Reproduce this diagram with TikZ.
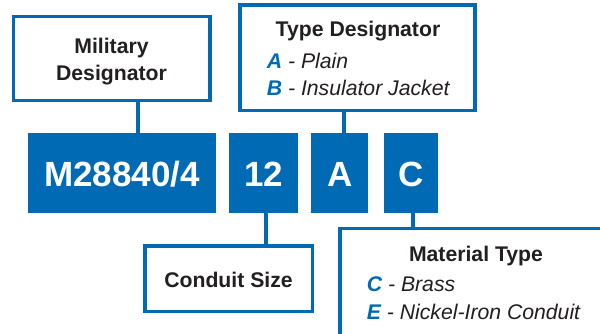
\documentclass[tikz,border=0pt]{standalone}
\usepackage{fontspec}
\setmainfont{Liberation Sans}
\usetikzlibrary{positioning, calc}

\definecolor{pnblue}{HTML}{006AB4}
\definecolor{pntext}{HTML}{231F20}
% coloured option letter inside an item line
\newcommand{\optletter}[1]{\textcolor{pnblue}{\bfseries #1}}

\begin{document}
\begin{tikzpicture}[
  x=1pt, y=-1pt,
  infobox/.style = {draw=pnblue, line width=3.3pt, fill=white, inner sep=0pt, outer sep=0pt},
  codebox/.style = {fill=pnblue, inner sep=0pt, outer sep=0pt, minimum height=80pt,
                    text height=26pt, text depth=0pt, text=white,
                    font=\fontsize{35}{35}\selectfont\bfseries},
  title/.style   = {anchor=base, inner sep=0pt, text=pntext,
                    font=\fontsize{21.2}{24}\selectfont\bfseries},
  item/.style    = {anchor=base west, inner sep=0pt, text=pntext,
                    font=\fontsize{21.2}{24}\selectfont\itshape},
  stem/.style    = {draw=pnblue, line width=4.3pt},
]
  \useasboundingbox (0,0) rectangle (600,334);
  \clip (0,0) rectangle (600,334);

  % part number blocks
  \node[codebox, minimum width=187.4pt]                  (milcode)  at (122,173.3) {M28840/4};
  \node[codebox, minimum width=68.4pt, right=13.6pt of milcode]  (sizecode) {12};
  \node[codebox, minimum width=57.3pt, right=13.3pt of sizecode] (typecode) {A};
  \node[codebox, minimum width=54.3pt, right=15.7pt of typecode] (matcode)  {C};

  % callout boxes
  \node[infobox, minimum width=196.7pt, minimum height=84pt]    (milbox)  at (111.7,58.7) {};
  \node[infobox, minimum width=235pt,   minimum height=105.7pt] (typebox) at (357.5,57.8) {};
  \node[infobox, minimum width=167.3pt, minimum height=65.7pt]  (sizebox) at (228.7,278.8) {};
  % material box runs off the right and bottom edges
  \node[infobox, minimum width=280pt, minimum height=120pt, anchor=north west] (matbox) at (340,228.3) {};

  \node[title] (miltitle)  at (111.5,54)   {Military};
  \node[title] (milsub)    at (111.5,81)   {Designator};
  \node[title] (typetitle) at (358,36.7)   {Type Designator};
  \node[item]  (typea)     at (266.7,69)   {\optletter{A} - Plain};
  \node[item]  (typeb)     at (266.7,95.7) {\optletter{B} - Insulator Jacket};
  \node[title] (sizetitle) at (228.5,287.3) {Conduit Size};
  \node[title] (mattitle)  at (476,261.7)  {Material Type};
  \node[item]  (matc)      at (366.7,291.7) {\optletter{C} - Brass};
  \node[item]  (mate)      at (366.7,319)  {\optletter{E} - Nickel-Iron Conduit};

  % stems
  \coordinate (milstem)  at ($(milbox.south)+(26.6,0)$);
  \coordinate (sizestem) at ($(sizecode.south)+(2.5,0)$);
  \coordinate (typestem) at ($(typecode.north)+(4.6,0)$);
  \coordinate (matstem)  at ($(matcode.south)+(2.1,0)$);
  \draw[stem] (milstem)  -- (milstem |- milcode.north);
  \draw[stem] (sizestem) -- (sizestem |- sizebox.north);
  \draw[stem] (typestem) -- (typestem |- typebox.south);
  \draw[stem] (matstem)  -- (matstem |- matbox.north);
\end{tikzpicture}
\end{document}
